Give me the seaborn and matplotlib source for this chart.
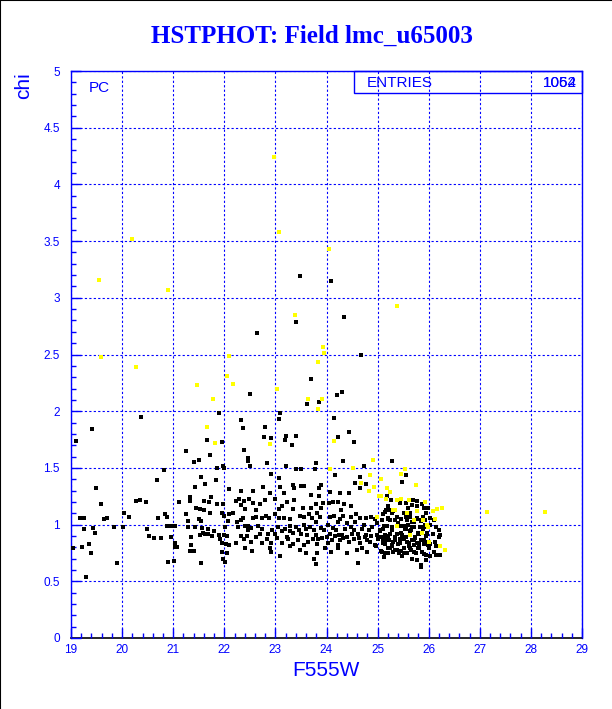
import numpy as np
import pandas as pd
import matplotlib
matplotlib.use("Agg")
import matplotlib.pyplot as plt
import seaborn as sns
from matplotlib.ticker import MultipleLocator, FormatStrFormatter
from matplotlib.patches import Rectangle
from matplotlib.lines import Line2D

# F555W magnitude / chi for the black (good) stars
black_x = [
    23.49, 24.09, 23.41, 24.35, 22.64, 24.68, 23.70, 24.31,
    22.51, 20.37, 21.90, 19.41, 22.33, 22.37, 19.09, 21.96, 21.66, 21.25, 22.39, 21.50,
    21.41, 21.72, 22.46, 22.46, 21.86, 21.97, 21.99, 22.51, 20.82, 20.68, 21.54, 21.63,
    21.84, 21.42, 19.49, 22.33, 22.09, 19.59, 20.27, 20.35, 20.46, 21.11, 21.33, 21.33,
    21.44, 21.61, 21.70, 21.74, 21.86, 21.52, 21.60, 21.72, 21.97, 22.23, 22.29, 22.33,
    22.39, 22.41, 22.49, 19.17, 19.25, 19.64, 19.70, 20.03, 20.14, 20.70, 20.84, 20.88,
    21.25, 21.29, 21.50, 21.54, 21.96, 21.99, 22.09, 22.18, 22.02, 22.07, 22.24, 22.33,
    22.37, 22.27, 22.41, 22.47, 19.44, 19.25, 19.47, 19.84, 20.01, 20.49, 20.53, 20.63,
    20.76, 20.96, 20.88, 20.96, 21.04, 21.03, 21.03, 21.07, 21.34, 21.35, 21.32, 21.41,
    21.29, 21.42, 21.56, 21.58, 21.52, 21.63, 21.68, 21.68, 21.80, 21.90, 21.92, 21.75,
    21.99, 22.05, 21.95, 22.04, 22.10, 22.23, 22.33, 22.39, 22.44, 22.46, 21.95, 22.05,
    21.98, 22.01, 21.54, 20.90, 21.01, 19.90, 19.29, 19.22, 19.35, 19.39, 19.03, 22.41,
    24.20, 23.62, 23.86, 23.09, 23.08, 24.14, 22.79, 22.77, 22.91, 23.20, 23.18, 23.40,
    23.32, 24.23, 24.44, 24.54, 24.32, 23.80, 25.29, 24.73, 22.83, 23.21, 23.41, 23.51,
    23.77, 24.17, 24.65, 24.56, 25.56, 23.07, 22.92, 22.75, 22.57, 23.09, 23.35, 23.37,
    23.56, 23.50, 23.89, 23.86, 23.69, 23.85, 24.06, 24.27, 24.45, 24.66, 24.78, 23.17,
    22.89, 23.37, 23.22, 22.99, 22.79, 22.63, 22.69, 22.57, 23.69, 23.79, 23.89, 23.94,
    24.05, 24.13, 24.22, 24.35, 24.47, 24.28, 23.07, 23.12, 23.35, 23.54, 25.21, 25.31,
    25.43, 25.55, 25.67, 25.77, 25.90, 25.14, 25.29, 25.55, 25.63, 25.77, 25.88,
    22.56, 22.62, 22.74, 22.81, 22.87, 22.99, 23.08, 23.16, 23.29, 23.48, 23.56, 23.65,
    23.72, 23.81, 23.88, 24.07, 24.15, 24.26, 24.33, 24.47, 24.58, 24.66, 24.77, 24.87,
    24.94, 25.11, 25.21, 25.38, 25.46, 25.58, 25.71, 25.85, 25.93,
    22.52, 22.66, 22.74, 22.86, 22.94, 23.05, 23.13, 23.18, 23.28, 23.41, 23.46, 23.50,
    23.59, 23.67, 23.75, 23.80, 23.89, 23.96, 24.06, 24.13, 24.19, 24.24, 24.31, 24.37,
    24.47, 24.54, 24.61, 24.70, 24.77, 24.83, 24.90, 24.98, 25.04, 25.11, 25.20, 25.29,
    25.38, 25.47, 25.56, 25.64, 25.73, 25.81, 25.90, 25.97,
    22.53, 22.62, 22.73, 22.83, 22.92, 23.03, 23.13, 23.24, 23.35, 23.45, 23.55, 23.64,
    23.73, 23.81, 23.92, 24.02, 24.11, 24.22, 24.33, 24.44, 24.54, 24.66, 24.75, 24.86,
    24.94, 25.01, 25.11, 25.18, 25.28, 25.35, 25.43, 25.52, 25.62, 25.71, 25.81, 25.90,
    25.98,
    22.54, 22.90, 22.91, 23.09, 23.29, 23.48, 23.60, 23.76, 23.81, 23.97, 24.09, 24.22,
    24.40, 24.60, 24.70, 24.80, 24.96, 25.07, 25.14, 25.24, 25.38, 25.51, 25.63, 25.71,
    25.81, 25.90, 25.95, 23.79, 24.61, 25.84,
    25.48, 25.18, 25.26, 25.60, 25.69, 25.77, 25.86, 25.94, 25.99, 26.03, 25.17, 25.24,
    25.31, 25.51, 25.63, 25.77, 25.84, 25.09, 25.21, 25.34, 25.46, 25.60, 25.71, 25.82,
    26.03, 26.15, 26.22, 25.05, 25.14, 25.25, 25.34, 25.46, 25.55, 25.64, 25.73, 25.85,
    25.94, 26.03, 26.13, 26.20, 25.14, 25.28, 25.39, 25.51, 25.62, 25.71, 25.80, 25.90,
    26.01, 26.10, 26.23, 25.08, 25.20, 25.30, 25.42, 25.58, 25.68, 25.84, 25.94, 26.14,
    25.12, 25.29, 25.39, 25.54, 25.65, 25.79, 25.89, 25.97, 26.09, 25.11, 25.22, 25.31,
    25.43, 25.58, 25.68, 25.77, 25.97, 26.15, 25.21, 25.34, 25.45, 25.65, 25.75, 25.86,
    25.94, 26.03, 26.23, 25.77, 25.47, 25.12, 25.25, 25.68, 25.92, 26.10, 26.20,
    22.69, 23.00, 23.22, 23.34, 23.61, 23.84, 24.01, 24.17, 24.27, 24.41, 24.50, 24.63,
    24.80, 24.88, 25.07, 25.14, 25.24, 25.34, 23.29, 23.55, 23.79, 24.02, 24.22, 24.40,
    24.56, 24.73, 24.99, 25.18, 25.51, 25.67,
]
black_y = [
    3.19, 3.15, 2.79, 2.83, 2.69, 2.50, 2.28, 2.17,
    2.15, 1.95, 1.98, 1.84, 1.92, 1.85, 1.74, 1.73, 1.75, 1.65, 1.66, 1.57,
    1.55, 1.61, 1.59, 1.56, 1.50, 1.52, 1.50, 1.52, 1.48, 1.39, 1.42, 1.36,
    1.39, 1.33, 1.32, 1.30, 1.31, 1.18, 1.21, 1.22, 1.20, 1.20, 1.24, 1.21,
    1.15, 1.21, 1.20, 1.24, 1.18, 1.14, 1.13, 1.10, 1.18, 1.21, 1.23, 1.17,
    1.21, 1.14, 1.23, 1.06, 1.06, 1.05, 1.06, 1.10, 1.07, 1.06, 1.09, 1.07,
    1.09, 1.03, 1.05, 1.03, 1.10, 1.08, 1.09, 1.10, 0.98, 1.03, 1.02, 1.04,
    1.06, 0.98, 0.99, 0.99, 0.97, 0.96, 0.93, 0.98, 0.98, 0.96, 0.90, 0.88,
    0.88, 0.89, 0.99, 0.99, 0.99, 0.84, 0.80, 0.80, 0.89, 0.82, 0.77, 0.77,
    0.98, 0.98, 0.97, 0.93, 0.91, 0.92, 0.96, 0.92, 0.94, 0.91, 0.87, 0.90,
    0.91, 0.90, 0.84, 0.83, 0.82, 0.84, 0.90, 0.87, 0.90, 0.95, 0.76, 0.75,
    0.70, 0.67, 0.66, 0.67, 0.68, 0.66, 0.54, 0.80, 0.83, 0.75, 0.79, 0.79,
    2.14, 2.06, 2.08, 1.98, 1.93, 1.94, 1.86, 1.77, 1.76, 1.78, 1.75, 1.78,
    1.70, 1.77, 1.82, 1.73, 1.56, 1.54, 1.56, 1.52, 1.54, 1.52, 1.49, 1.49,
    1.49, 1.44, 1.42, 1.37, 1.44, 1.41, 1.45, 1.33, 1.30, 1.33, 1.35, 1.32,
    1.34, 1.34, 1.35, 1.32, 1.26, 1.25, 1.29, 1.28, 1.28, 1.32, 1.36, 1.28,
    1.28, 1.22, 1.20, 1.23, 1.22, 1.13, 1.18, 1.19, 1.15, 1.18, 1.15, 1.19,
    1.19, 1.20, 1.20, 1.18, 1.16, 1.13, 1.14, 1.16, 1.14, 1.15, 1.16, 1.13,
    1.19, 1.19, 1.17, 1.16, 1.15, 1.11, 1.10, 1.07, 1.10, 1.06, 1.07,
    1.06, 1.07, 1.06, 1.08, 1.06, 1.09, 1.06, 1.06, 1.05, 1.08, 1.07, 1.09,
    1.06, 1.10, 1.07, 1.07, 1.08, 1.05, 1.08, 1.07, 1.09, 1.06, 1.06, 1.07,
    1.05, 1.09, 1.06, 1.07, 1.05, 1.04, 1.02, 1.03, 1.04,
    0.97, 0.99, 0.96, 0.92, 0.95, 0.98, 0.94, 0.96, 0.94, 0.98, 0.95, 0.92,
    0.96, 0.98, 0.95, 0.91, 0.97, 0.95, 0.92, 0.97, 0.95, 0.91, 0.91, 0.96,
    0.98, 0.95, 0.92, 0.96, 0.91, 0.95, 0.98, 0.91, 0.94, 0.96, 0.90, 0.95,
    0.92, 0.91, 0.96, 0.94, 0.89, 0.92, 0.98, 0.92,
    0.85, 0.89, 0.84, 0.87, 0.84, 0.88, 0.84, 0.87, 0.83, 0.86, 0.82, 0.85,
    0.87, 0.83, 0.88, 0.84, 0.86, 0.82, 0.88, 0.85, 0.87, 0.84, 0.89, 0.85,
    0.82, 0.87, 0.84, 0.88, 0.82, 0.86, 0.84, 0.87, 0.84, 0.86, 0.83, 0.86,
    0.82,
    0.77, 0.79, 0.76, 0.72, 0.81, 0.78, 0.75, 0.70, 0.75, 0.79, 0.76, 0.79,
    0.75, 0.78, 0.79, 0.76, 0.81, 0.77, 0.75, 0.79, 0.78, 0.75, 0.79, 0.76,
    0.79, 0.74, 0.69, 0.65, 0.66, 0.64,
    1.38, 1.25, 1.22, 1.15, 1.22, 1.21, 1.18, 1.10, 1.15, 1.06, 1.13, 1.13,
    1.12, 1.10, 1.07, 1.05, 1.04, 1.04, 1.05, 1.04, 0.99, 1.00, 0.98, 0.98,
    1.00, 0.98, 0.91, 0.95, 0.91, 0.92, 0.89, 0.93, 0.89, 0.91, 0.88, 0.86,
    0.90, 0.83, 0.85, 0.89, 0.83, 0.81, 0.83, 0.79, 0.81, 0.82, 0.79, 0.83,
    0.79, 0.76, 0.73, 0.76, 0.75, 0.76, 0.75, 0.75, 0.70, 0.63, 0.69, 0.73,
    0.99, 0.98, 1.01, 0.96, 0.95, 0.93, 0.96, 0.93, 0.92, 0.87, 0.86, 0.85,
    0.87, 0.85, 0.86, 0.84, 0.85, 0.81, 0.79, 0.78, 0.77, 0.78, 0.75, 0.76,
    0.73, 0.72, 0.81, 0.69, 0.72, 0.71, 1.04, 1.02, 1.00, 1.04, 0.95,
    0.92, 0.92, 0.89, 0.93, 0.91, 0.87, 0.89, 0.90, 0.86, 0.89, 0.92, 0.88,
    0.86, 0.90, 0.89, 0.86, 0.92, 0.89, 0.99, 1.00, 1.02, 1.00, 1.02, 1.01,
    1.02, 1.00, 1.01, 0.99, 0.99, 0.98,
]

# yellow (flagged) stars
yellow_x = [
    22.98, 20.20, 19.54, 20.90, 23.08, 24.04, 25.38, 23.39, 19.59, 20.28, 22.09, 21.47,
    22.17, 22.05, 23.03, 23.93, 23.96, 23.83, 21.78, 21.66, 21.81,
    23.64, 23.92, 23.84, 22.90, 24.14, 24.91, 24.07, 24.52, 25.54, 24.86, 25.07, 24.68,
    24.92, 24.83, 25.18, 25.25, 25.76, 25.02, 25.17, 25.38, 25.46, 25.62, 25.92, 25.31,
    25.58, 25.77, 24.99, 25.38, 25.88, 25.97, 25.86, 26.01, 25.64,
    25.35, 26.09, 26.16, 26.27, 27.14, 28.28, 25.72, 26.13, 25.99, 26.32, 26.23, 25.45,
    25.07,
]
yellow_y = [
    4.24, 3.52, 3.16, 3.07, 3.58, 3.43, 2.93, 2.85, 2.48, 2.39, 2.49, 2.23,
    2.24, 2.31, 2.20, 2.57, 2.51, 2.43, 2.11, 1.86, 1.72,
    2.11, 2.11, 2.02, 1.71, 1.74, 1.57, 1.49, 1.50, 1.49, 1.44, 1.40, 1.37,
    1.33, 1.30, 1.32, 1.29, 1.35, 1.25, 1.23, 1.22, 1.23, 1.22, 1.20, 1.13,
    1.10, 1.12, 1.07, 0.99, 1.04, 1.00, 0.93, 0.85, 0.91,
    1.13, 1.12, 1.14, 1.15, 1.11, 1.11, 1.04, 1.05, 0.98, 0.78, 0.81, 1.45,
    1.25,
]

entries_labels = ["1054", "1062"]

BLUE = "#0000ff"

df_black = pd.DataFrame({"F555W": black_x, "chi": black_y})
df_yellow = pd.DataFrame({"F555W": yellow_x, "chi": yellow_y})

sns.set_style("white")
plt.rcParams["font.family"] = ["Liberation Sans", "DejaVu Sans"]

W, H = 612, 709
fig = plt.figure(figsize=(W / 100, H / 100), dpi=100)
ax = fig.add_axes([71 / W, 71 / H, 511 / W, 567 / H])

sns.scatterplot(data=df_black, x="F555W", y="chi", color="black", marker="s",
                s=7, linewidth=0, ax=ax, legend=False, zorder=3)
sns.scatterplot(data=df_yellow, x="F555W", y="chi", color="#ffff00", marker="s",
                s=6.5, linewidth=0, ax=ax, legend=False, zorder=4)

ax.set_xlim(19, 29)
ax.set_ylim(0, 5)
ax.set_xlabel("")
ax.set_ylabel("")

ax.xaxis.set_major_locator(MultipleLocator(1))
ax.xaxis.set_minor_locator(MultipleLocator(0.2))
ax.yaxis.set_major_locator(MultipleLocator(0.5))
ax.yaxis.set_minor_locator(MultipleLocator(0.1))
ax.yaxis.set_major_formatter(FormatStrFormatter("%g"))
ax.xaxis.set_major_formatter(FormatStrFormatter("%g"))

ax.tick_params(which="both", direction="in", colors=BLUE, labelcolor=BLUE,
               labelsize=8.5, bottom=True, left=True)
ax.tick_params(which="major", length=7, width=1)
ax.tick_params(which="minor", length=3.5, width=1)
ax.tick_params(axis="x", pad=4)
ax.tick_params(axis="y", pad=8)

ax.grid(which="major", color=BLUE, linestyle=(0, (2, 2)), linewidth=0.8)
ax.set_axisbelow(False)

for side in ["left", "top", "right"]:
    ax.spines[side].set_color(BLUE)
    ax.spines[side].set_linewidth(1)
ax.spines["bottom"].set_color("black")
ax.spines["bottom"].set_linewidth(1.2)

# stats box
ax.add_patch(Rectangle((0.554, 0.961), 0.446, 0.039, transform=ax.transAxes,
                       fill=False, edgecolor=BLUE, linewidth=1, zorder=5, clip_on=False))
ax.text(0.579, 0.979, "ENTRIES", transform=ax.transAxes, color=BLUE,
        fontsize=11, ha="left", va="center")
for lab in entries_labels:
    ax.text(0.990, 0.979, lab, transform=ax.transAxes, color=BLUE,
            fontsize=11, ha="right", va="center")
ax.text(0.035, 0.970, "PC", transform=ax.transAxes, color=BLUE,
        fontsize=11, ha="left", va="center")

# titles / axis labels
fig.text(312 / W, 1 - 43 / H, "HSTPHOT: Field lmc_u65003", color=BLUE,
         fontsize=18, fontweight="bold", family=["Liberation Serif", "DejaVu Serif"],
         ha="center", va="baseline")
fig.text(326 / W, 1 - 676 / H, "F555W", color=BLUE, fontsize=15,
         ha="center", va="baseline")
fig.text(24 / W, 1 - 72 / H, "chi", color=BLUE, fontsize=15, rotation=90,
         ha="center", va="top")

# frame of the original window (top and left edges)
fig.add_artist(Line2D([0, 0], [0, 1], transform=fig.transFigure, color="black", linewidth=1.5))
fig.add_artist(Line2D([0, 1], [1, 1], transform=fig.transFigure, color="black", linewidth=1.5))

fig.savefig("out.png", dpi=100, facecolor="white")
